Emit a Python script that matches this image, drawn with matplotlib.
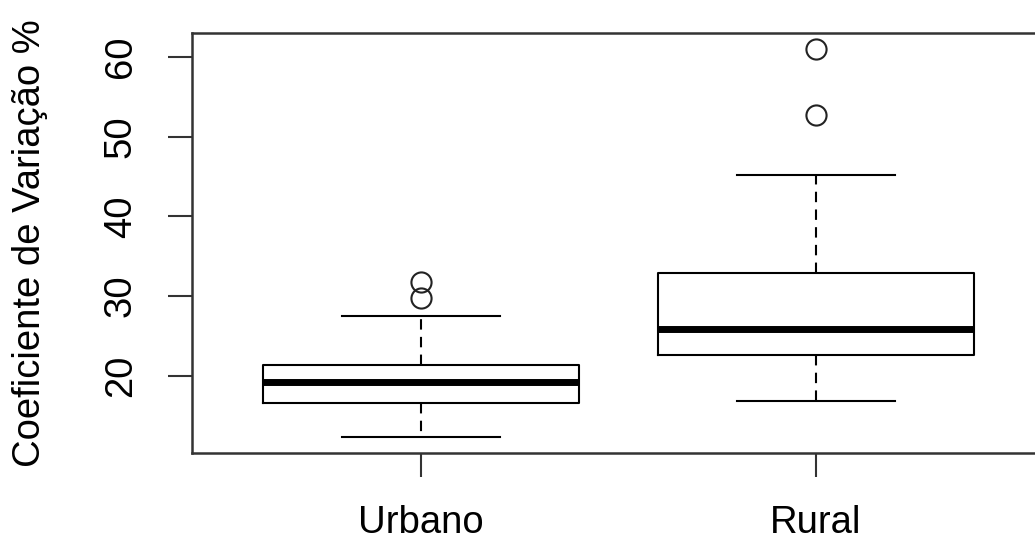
import matplotlib
matplotlib.use("Agg")
import matplotlib.pyplot as plt

# Data
categories = ["Urbano", "Rural"]
whisker_low = [12.3, 16.85]
q1 = [16.55, 22.6]
median = [19.3, 25.9]
q3 = [21.4, 32.85]
whisker_high = [27.5, 45.25]
outliers = [[29.75, 31.75], [52.7, 60.95]]
y_ticks = [20, 30, 40, 50, 60]
y_label = "Coeficiente de Variação %"

plt.rcParams["font.family"] = ["Liberation Sans", "DejaVu Sans"]

W, H = 1035, 541
fig = plt.figure(figsize=(W / 100, H / 100), dpi=100)
ax = fig.add_axes([191.7 / W, 1 - 452.5 / H, (1045 - 191.7) / W, (452.5 - 32.8) / H])

stats = []
for i, c in enumerate(categories):
    stats.append(dict(label=c, whislo=whisker_low[i], q1=q1[i], med=median[i],
                      q3=q3[i], whishi=whisker_high[i], fliers=outliers[i]))

lw = 1.5
ax.bxp(stats, positions=[1, 2], widths=0.8, showfliers=True,
       boxprops=dict(color="black", linewidth=lw),
       medianprops=dict(color="black", linewidth=5, solid_capstyle="butt"),
       whiskerprops=dict(color="black", linewidth=lw, linestyle=(0, (5, 3.5))),
       capprops=dict(color="black", linewidth=lw),
       capwidths=0.4,
       flierprops=dict(marker="o", markersize=14.5, markerfacecolor="none",
                       markeredgecolor="#222222", markeredgewidth=1.5, linestyle="none"))

ax.set_xlim(0.42, 2.58)
ax.set_ylim(10.4, 63.02)
ax.set_yticks(y_ticks)
ax.set_yticklabels([str(v) for v in y_ticks], rotation=90, va="center")
ax.set_xticks([1, 2])
ax.set_xticklabels(categories)

for s in ax.spines.values():
    s.set_linewidth(1.8)
    s.set_color("#333333")

ax.tick_params(axis="both", direction="out", length=17, width=1.5, color="#333333",
               labelsize=27.5)
ax.tick_params(axis="y", pad=21)
ax.tick_params(axis="x", pad=21)

fig.text(30 / W, 1 - 243 / H, y_label, rotation=90, ha="center", va="center",
         fontsize=27.5)

fig.savefig("out.png", dpi=100, facecolor="white")
